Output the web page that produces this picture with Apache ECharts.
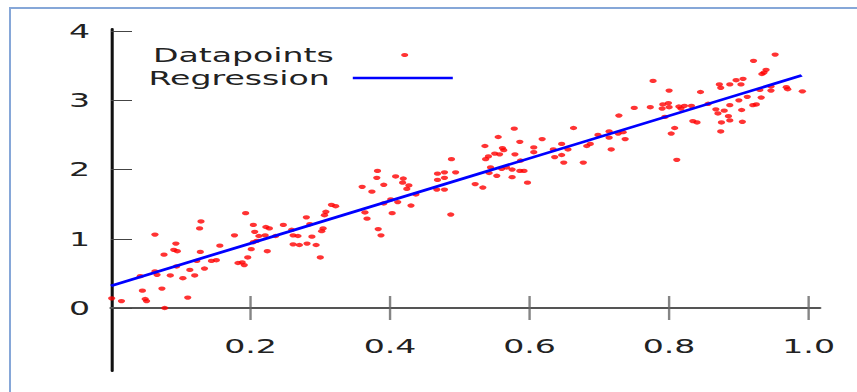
<!DOCTYPE html>
<html>
<head>
<meta charset="utf-8">
<script src="https://cdn.jsdelivr.net/npm/echarts@6/dist/echarts.min.js"></script>
<style>
  html, body { margin: 0; padding: 0; background: #fff; overflow: hidden; }
  #frame { position: absolute; left: 9px; top: 7px; width: 870px; height: 400px;
           border-left: 2px solid #86a7d8; border-top: 2px solid #86a7d8; }
  #chart { position: absolute; left: 0; top: 0; height: 392px; transform-origin: 0 0; }
</style>
</head>
<body>
<div id="frame"></div>
<div id="chart"></div>
<script>
// x, y of each red point
const datapoints = [
  [0.001, 0.14], [0.015, 0.10], [0.042, 0.46], [0.045, 0.25], [0.049, 0.13], [0.051, 0.10],
  [0.063, 1.06], [0.063, 0.53], [0.066, 0.48], [0.073, 0.28], [0.077, 0.00], [0.076, 0.77],
  [0.085, 0.47], [0.090, 0.84], [0.093, 0.93], [0.095, 0.82], [0.094, 0.60], [0.103, 0.43],
  [0.110, 0.15], [0.113, 0.55], [0.120, 0.47], [0.123, 0.68], [0.127, 1.15], [0.129, 1.25],
  [0.128, 0.81], [0.134, 0.57], [0.144, 0.68], [0.151, 0.69], [0.156, 0.90], [0.177, 1.05],
  [0.193, 1.37], [0.182, 0.65], [0.188, 0.66], [0.191, 0.62], [0.196, 0.73], [0.201, 0.85],
  [0.204, 1.20], [0.206, 1.10], [0.204, 0.95], [0.209, 0.97], [0.212, 1.04], [0.221, 1.05],
  [0.222, 1.17], [0.227, 1.15], [0.224, 0.82], [0.236, 1.04], [0.247, 1.20], [0.259, 1.13],
  [0.261, 1.05], [0.268, 1.04], [0.261, 0.92], [0.270, 0.91], [0.280, 1.31], [0.285, 1.21],
  [0.288, 1.03], [0.281, 0.93], [0.294, 0.91], [0.300, 0.73], [0.302, 1.11], [0.304, 1.15],
  [0.306, 1.34], [0.308, 1.39], [0.316, 1.49], [0.322, 1.47],
  [0.360, 1.75], [0.374, 1.68], [0.382, 1.98], [0.381, 1.88], [0.391, 1.78], [0.408, 1.90],
  [0.419, 1.87], [0.418, 1.81], [0.427, 1.77], [0.424, 1.72], [0.437, 1.64], [0.401, 1.57],
  [0.391, 1.51], [0.411, 1.53], [0.430, 1.48], [0.364, 1.38], [0.367, 1.29], [0.403, 1.37],
  [0.383, 1.14], [0.387, 1.05], [0.488, 2.15], [0.494, 1.96], [0.468, 1.94], [0.478, 1.96],
  [0.468, 1.85], [0.478, 1.88], [0.467, 1.71], [0.478, 1.71], [0.487, 1.35],
  [0.536, 2.34], [0.555, 2.47], [0.578, 2.59], [0.586, 2.40], [0.561, 2.31], [0.563, 2.28],
  [0.550, 2.23], [0.557, 2.22], [0.541, 2.19], [0.537, 2.15], [0.579, 2.22], [0.606, 2.32],
  [0.618, 2.44], [0.606, 2.25], [0.587, 2.13], [0.544, 2.03], [0.560, 2.01], [0.567, 2.03],
  [0.575, 2.00], [0.586, 1.98], [0.592, 1.98], [0.542, 1.95], [0.553, 1.91], [0.575, 1.89],
  [0.597, 1.81], [0.522, 1.79], [0.533, 1.74], [0.634, 2.29], [0.646, 2.37], [0.655, 2.29],
  [0.636, 2.18], [0.646, 2.21], [0.649, 2.10], [0.663, 2.60],
  [0.677, 2.10], [0.682, 2.34], [0.687, 2.37], [0.698, 2.50], [0.714, 2.55], [0.714, 2.46],
  [0.727, 2.52], [0.734, 2.54], [0.717, 2.29], [0.737, 2.44], [0.728, 2.78], [0.750, 2.89],
  [0.773, 2.90], [0.777, 3.28], [0.800, 3.14], [0.791, 2.94], [0.799, 2.96], [0.790, 2.88],
  [0.800, 2.90], [0.794, 2.76], [0.814, 2.91], [0.822, 2.92], [0.817, 2.88], [0.808, 2.60],
  [0.803, 2.52], [0.811, 2.14],
  [0.832, 2.92], [0.845, 3.12], [0.872, 3.23], [0.874, 3.18], [0.887, 3.23], [0.896, 3.29],
  [0.906, 3.31], [0.903, 3.23], [0.921, 3.57], [0.952, 3.66], [0.933, 3.38], [0.936, 3.40],
  [0.939, 3.44], [0.930, 3.15], [0.946, 3.14], [0.946, 3.20], [0.968, 3.19], [0.970, 3.16],
  [0.991, 3.13], [0.932, 3.04], [0.912, 3.05], [0.900, 3.00], [0.887, 2.93], [0.920, 2.93],
  [0.925, 2.94], [0.867, 2.87], [0.879, 2.85], [0.870, 2.81], [0.904, 2.86], [0.885, 2.77],
  [0.887, 2.71], [0.875, 2.68], [0.905, 2.69], [0.874, 2.55], [0.834, 2.70], [0.840, 2.68],
  [0.856, 2.95]
];

// fitted line, both ends
const regression = [[0, 0.32], [0.99, 3.36]];

const xTicks = [0.2, 0.4, 0.6, 0.8, 1.0];
const yTicks = [0, 1, 2, 3, 4];

// the source picture is stretched sideways, so draw narrow and scale the div
const S = 1.7;
const W = 857 / S;
const px = v => v / S;
const FONT = 'DejaVu Sans';

const el = document.getElementById('chart');
el.style.width = W + 'px';
el.style.transform = 'scaleX(' + S + ')';

const chart = echarts.init(el, null, { renderer: 'svg' });

const textStyle = { fontFamily: FONT, fontSize: 19.5, color: '#222' };

chart.setOption({
  animation: false,
  grid: { left: px(111), right: W - px(820), top: 29, bottom: 21, outerBoundsMode: 'none' },
  xAxis: {
    type: 'value',
    min: 0,
    max: 1.016,
    splitLine: { show: false },
    axisTick: { show: false },
    axisLine: { onZero: true, lineStyle: { color: '#555', width: 2 } },
    axisLabel: {
      customValues: xTicks,
      formatter: v => v.toFixed(1),
      // labels sit at the grid bottom, pull them up under the zero line
      margin: -35,
      ...textStyle
    }
  },
  yAxis: {
    type: 'value',
    min: -0.91,
    max: 4.03,
    splitLine: { show: false },
    axisLine: { lineStyle: { color: '#111', width: 1.8 } },
    axisTick: {
      customValues: yTicks,
      inside: true,
      length: px(21),
      lineStyle: { color: '#444', width: 1 }
    },
    axisLabel: {
      customValues: yTicks,
      margin: px(21),
      ...textStyle
    }
  },
  legend: [
    {
      data: ['Datapoints'],
      align: 'right',
      icon: 'circle',
      padding: 0,
      right: W - (px(333) + 5 + 73.4) + 34,
      top: 45,
      itemWidth: 73.4,
      itemHeight: 4.2,
      textStyle
    },
    {
      data: ['Regression'],
      align: 'right',
      icon: 'rect',
      padding: 0,
      right: W - px(453),
      top: 68,
      itemWidth: px(100),
      itemHeight: 2.6,
      textStyle: { ...textStyle, padding: [0, 8.5, 0, 0] }
    }
  ],
  series: [
    {
      name: 'Datapoints',
      type: 'scatter',
      data: datapoints,
      symbol: 'circle',
      symbolSize: 4.3,
      itemStyle: { color: '#ff0000' },
      emphasis: { disabled: true },
      z: 3
    },
    {
      name: 'Regression',
      type: 'line',
      data: regression,
      symbol: 'none',
      lineStyle: { color: '#0000ff', width: 2.6 },
      itemStyle: { color: '#0000ff' },
      emphasis: { disabled: true },
      z: 4
    },
    {
      // x ticks cross the axis, so draw them as thin bars centred on y = 0
      name: 'xticks',
      type: 'scatter',
      data: xTicks.map(v => [v, 0]),
      symbol: 'rect',
      symbolSize: [px(2.4), 24],
      itemStyle: { color: '#666' },
      silent: true,
      z: 2
    }
  ]
});
</script>
</body>
</html>
